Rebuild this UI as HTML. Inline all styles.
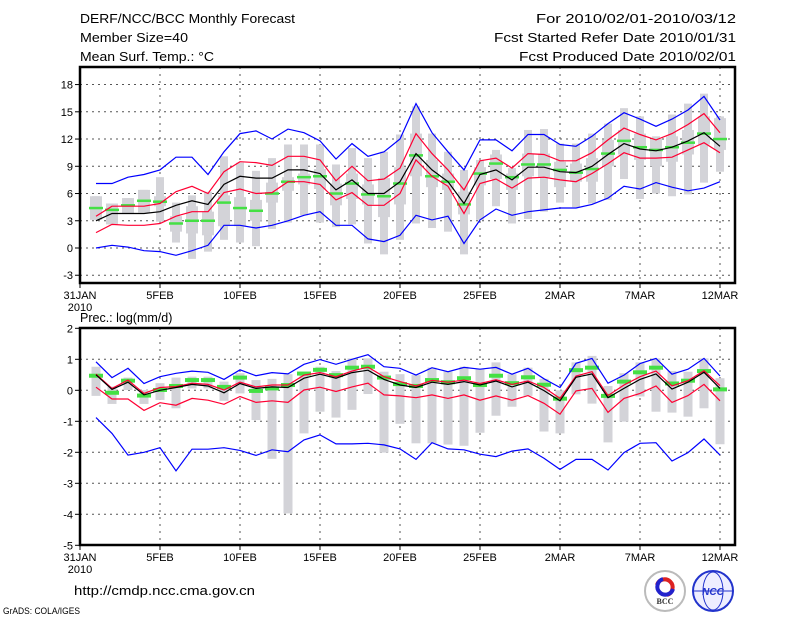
<!DOCTYPE html>
<html><head><meta charset="utf-8"><style>
html,body{margin:0;padding:0;background:#fff;}
svg{display:block;font-family:"Liberation Sans",sans-serif;}
</style></head><body>
<svg id="chart" width="800" height="618" viewBox="0 0 800 618">
<rect x="0" y="0" width="800" height="618" fill="#fff"/>
<g font-size="12.5" fill="#000">
<text x="80" y="23" textLength="215" lengthAdjust="spacingAndGlyphs">DERF/NCC/BCC Monthly Forecast</text>
<text x="80" y="42" textLength="108" lengthAdjust="spacingAndGlyphs">Member Size=40</text>
<text x="80" y="61" textLength="134" lengthAdjust="spacingAndGlyphs">Mean Surf. Temp.: °C</text>
<text x="536" y="23" textLength="200" lengthAdjust="spacingAndGlyphs">For 2010/02/01-2010/03/12</text>
<text x="494" y="42" textLength="242" lengthAdjust="spacingAndGlyphs">Fcst Started Refer Date 2010/01/31</text>
<text x="519" y="61" textLength="217" lengthAdjust="spacingAndGlyphs">Fcst Produced Date 2010/02/01</text>
</g>
<text x="80" y="322" font-size="12.5">Prec.: log(mm/d)</text>
<text x="74" y="595" font-size="13" textLength="181" lengthAdjust="spacingAndGlyphs">http://cmdp.ncc.cma.gov.cn</text>
<text x="3" y="614" font-size="9" textLength="77" lengthAdjust="spacingAndGlyphs">GrADS: COLA/IGES</text>
<g>
<circle cx="665" cy="591" r="20" fill="#fff" stroke="#bbb" stroke-width="2"/>
<path d="M657 585 a8 8 0 1 1 10 10" fill="none" stroke="#d22" stroke-width="4"/>
<path d="M673 589 a8 8 0 1 1 -10 -10" fill="none" stroke="#22c" stroke-width="4"/>
<text x="665" y="604" font-size="8" text-anchor="middle" font-family="Liberation Serif,serif" font-weight="bold" fill="#333">BCC</text>
</g>
<g>
<circle cx="713" cy="591" r="20" fill="#eef" stroke="#23c" stroke-width="2"/>
<ellipse cx="713" cy="591" rx="10" ry="19" fill="none" stroke="#23c"/>
<line x1="694" y1="591" x2="732" y2="591" stroke="#23c"/>
<text x="713" y="595" font-size="10" text-anchor="middle" font-style="italic" font-weight="bold" fill="#23c">NCC</text>
</g>
<g id="top"></g>
<g id="bot"></g>
</svg>
<script>
// ===== Temperature panel data (Feb1..Mar12) =====
const days = [1,2,3,4,5,6,7,8,9,10,11,12,13,14,15,16,17,18,19,20,21,22,23,24,25,26,27,28,29,30,31,32,33,34,35,36,37,38,39,40];
const xTickLabels = ["31JAN","5FEB","10FEB","15FEB","20FEB","25FEB","2MAR","7MAR","12MAR"];
const xTickDays = [0,5,10,15,20,25,30,35,40];
const tTicks = [18,15,12,9,6,3,0,-3];
const tMax = [7.1,7.1,7.8,8.1,8.6,10.0,10.0,8.1,10.6,12.6,12.9,12.0,13.1,12.7,11.8,9.8,11.5,10.1,10.6,12.0,15.9,12.7,10.6,8.6,11.9,11.9,10.7,12.5,12.5,11.4,11.2,12.3,13.7,14.9,14.2,13.4,14.2,15.2,16.7,14.1];
const tUp = [3.5,4.6,4.6,4.6,4.9,6.2,6.8,6.0,8.4,9.5,9.4,9.1,10.1,10.1,9.7,7.4,9.0,7.4,7.6,8.8,12.6,10.4,8.6,6.4,9.6,9.9,8.8,10.4,10.3,9.6,9.6,10.5,11.9,13.2,12.5,11.9,12.6,13.6,14.8,12.7];
const tMean = [3.0,3.8,3.8,3.8,4.0,4.7,5.2,4.8,7.0,7.9,7.7,7.7,8.6,8.6,8.2,6.4,7.5,6.0,6.0,7.3,10.4,8.6,7.3,4.9,8.1,8.6,7.5,8.9,8.9,8.4,8.3,9.0,10.3,11.5,10.9,10.7,11.1,11.8,12.7,11.2];
const tLo = [1.7,2.6,2.5,2.5,2.7,3.5,4.0,4.0,6.1,6.5,6.0,6.1,7.3,7.3,7.0,5.3,6.1,4.7,4.7,6.0,9.7,7.9,6.8,3.8,7.1,7.6,6.6,7.7,7.8,7.5,7.3,8.2,9.3,10.5,9.9,9.9,10.0,10.8,11.6,10.5];
const tMin = [0,0.3,0.1,-0.3,-0.4,-0.8,-0.3,0.3,2.5,2.5,2.2,2.5,3.0,3.6,4.0,2.5,2.5,1.0,0.7,1.4,3.6,3.1,3.5,0.5,3.1,4.3,3.6,4.0,4.2,4.4,4.4,4.8,5.5,6.8,6.5,7.2,6.7,6.3,6.6,7.3];
const tWhiskHi = [5.7,4.9,5.5,6.4,7.8,5.0,5.8,6.2,10.1,9.4,8.5,9.9,11.4,11.4,11.4,9.2,11.0,9.9,10.6,12.5,15.6,12.6,10.6,8.6,9.7,10.8,8.8,13.0,13.1,11.5,11.5,12.6,13.7,15.4,14.5,12.3,14.7,15.9,17.0,14.5];
const tWhiskLo = [3.1,2.6,3.8,3.9,2.9,0.6,-1.2,-0.4,0.9,0.6,0.2,2.1,2.8,3.6,2.8,2.3,2.6,0.5,-0.7,0.9,2.7,2.2,1.8,-0.7,3.1,4.6,2.7,3.2,4.0,5.0,4.5,4.9,5.3,7.6,5.4,6.0,5.7,5.9,7.2,8.4];
const tBoxHi = [5.7,4.9,5.5,6.4,5.7,3.5,4.6,4.0,5.8,5.6,5.3,7.2,7.8,8.2,8.7,7.1,8.2,7.0,7.7,8.9,12.6,9.7,8.2,6.2,8.9,10.3,8.2,10.4,10.4,9.5,9.3,9.9,11.9,13.0,12.6,12.0,12.3,13.0,14.5,14.3];
const tBoxLo = [3.1,2.6,3.8,3.9,4.6,1.8,1.6,1.4,2.4,2.4,3.0,5.0,6.3,7.0,6.5,4.7,5.4,4.8,3.4,4.8,7.9,6.7,6.4,3.7,6.9,7.6,6.4,7.9,7.8,6.7,7.3,7.3,9.0,10.3,9.7,9.0,9.5,10.3,11.4,10.8];
const tMed = [4.4,4.2,4.7,5.2,5.1,2.7,3.0,3.0,5.0,4.4,4.1,6.0,7.3,7.8,7.9,6.0,7.1,5.9,5.7,7.1,10.2,7.9,7.3,4.8,8.2,9.3,7.8,9.2,9.2,8.6,8.3,8.7,10.4,11.8,11.1,10.8,11.1,11.6,12.6,12.0];
// ===== Precipitation panel data =====
const pTicks = [2,1,0,-1,-2,-3,-4,-5];
const pMax = [0.92,0.41,0.71,0.22,0.44,0.55,0.62,0.58,0.35,0.66,0.47,0.57,0.53,0.84,0.99,0.84,1.0,1.15,0.76,0.71,0.49,0.73,0.6,0.74,0.68,0.74,0.52,0.71,0.37,0.09,0.87,1.03,0.23,0.49,0.86,1.03,0.52,0.68,1.03,0.46];
const pUp = [0.52,0.06,0.33,-0.1,0.09,0.12,0.23,0.19,0.01,0.26,0.11,0.17,0.17,0.49,0.57,0.44,0.62,0.75,0.44,0.28,0.14,0.32,0.26,0.33,0.22,0.34,0.19,0.3,0.09,-0.26,0.46,0.6,-0.17,0.17,0.44,0.62,0.14,0.31,0.63,0.15];
const pMean = [0.5,0.03,0.26,-0.15,0.0,0.09,0.19,0.14,-0.08,0.22,0.06,0.11,0.09,0.39,0.52,0.39,0.57,0.65,0.35,0.17,0.09,0.26,0.19,0.28,0.17,0.3,0.11,0.26,-0.01,-0.34,0.42,0.53,-0.24,0.06,0.35,0.53,0.04,0.26,0.58,0.06];
const pLo = [0.1,-0.28,-0.28,-0.65,-0.4,-0.48,-0.26,-0.32,-0.45,-0.2,-0.39,-0.34,-0.39,0.01,0.1,-0.04,0.11,0.23,-0.15,-0.18,-0.24,-0.15,-0.26,-0.15,-0.32,-0.18,-0.32,-0.17,-0.42,-0.77,-0.02,0.06,-0.71,-0.26,-0.1,0.14,-0.39,-0.17,0.19,-0.34];
const pMin = [-0.88,-1.39,-2.09,-2.0,-1.85,-2.6,-1.9,-1.9,-1.85,-1.94,-2.1,-1.92,-1.98,-1.6,-1.44,-1.73,-1.73,-1.71,-1.76,-1.89,-2.23,-1.69,-1.89,-1.92,-2.06,-2.14,-1.96,-1.89,-2.19,-2.55,-2.23,-2.23,-2.57,-2.01,-1.71,-1.69,-2.28,-2.01,-1.57,-2.09];
const pWhiskHi = [0.76,0.12,0.41,0.01,0.23,0.41,0.44,0.44,0.28,0.55,0.33,0.37,0.52,0.6,0.76,0.62,1.03,1.03,0.6,0.52,0.49,0.73,0.6,0.76,0.69,0.9,0.52,0.73,0.37,0.0,0.9,1.11,0.14,0.55,0.9,1.03,0.62,0.6,1.03,0.39];
const pWhiskLo = [-0.18,-0.44,0.01,-0.44,-0.31,-0.58,0.06,0.06,-0.34,-0.1,-0.96,-2.21,-3.97,-1.39,-0.69,-0.88,-0.63,-0.12,-2.01,-1.08,-1.71,-1.71,-1.75,-1.79,-1.37,-0.82,-0.53,-0.18,-1.33,-1.39,-0.13,-0.43,-1.68,-1.01,-0.2,-0.69,-0.72,-0.85,-0.58,-1.74];
const pMed = [0.47,-0.08,0.31,-0.17,0.01,0.14,0.33,0.33,0.11,0.41,-0.02,0.06,0.17,0.54,0.66,0.49,0.73,0.76,0.41,0.2,0.14,0.33,0.26,0.39,0.17,0.47,0.23,0.42,0.18,-0.27,0.65,0.73,-0.18,0.28,0.58,0.73,0.22,0.31,0.62,0.03];

const NS = "http://www.w3.org/2000/svg";
const L = 80, R = 735;
function yTop(v){ return 248 - 9.08 * v; }
function yBot(v){ return 390.3 - 31 * v; }
function xOf16(d){ return L + 16 * d; }
function mk(tag, attrs, parent){ const e = document.createElementNS(NS, tag); for (const k in attrs) e.setAttribute(k, attrs[k]); parent.appendChild(e); return e; }

function panel(g, cfg){
  const {yf, top, bottom, ticks} = cfg;
  ticks.forEach(t => {
    const y = yf(t);
    if (y > top + 2 && y < bottom - 2) {
      const gl = mk('line', {x1:L, x2:R, y1:y, y2:y, stroke:'#555', 'stroke-width':1, 'stroke-dasharray':'2,4'}, g);
      
      
    }
    const tk = mk('line', {x1:L-5, x2:L, y1:y, y2:y, stroke:'#000'}, g);
    
    
    const tl = mk('text', {x:L-7, y:y+4, 'font-size':11, 'text-anchor':'end'}, g);
    tl.textContent = t;
    
    
  });
  xTickDays.forEach((d, i) => {
    const x = L + 16 * d;
    if (i > 0) {
      const gl = mk('line', {x1:x, x2:x, y1:top, y2:bottom, stroke:'#555', 'stroke-width':1, 'stroke-dasharray':'2,5'}, g);
      
      
    }
    const tk = mk('line', {x1:x, x2:x, y1:bottom, y2:bottom+5, stroke:'#000'}, g);
    
    
    const tl = mk('text', {x:x, y:bottom+16, 'font-size':11, 'text-anchor':'middle'}, g);
    tl.textContent = xTickLabels[i];
    
    
  });
  const yr = mk('text', {x:L, y:bottom+28, 'font-size':11, 'text-anchor':'middle'}, g);
  yr.textContent = '2010';
  
  
}
function series(g, vals, yf, color, name, w){
  const pts = days.map((d, i) => xOf16(d) + ',' + yf(vals[i]).toFixed(1)).join(' ');
  const pl = mk('polyline', {points:pts, fill:'none', stroke:color, 'stroke-width':w}, g);
  
  
}
function bars(g, hi, lo, yf, w, name){
  days.forEach((d, i) => {
    const y1 = yf(hi[i]), y2 = yf(lo[i]);
    const r = mk('rect', {x:xOf16(d)-w/2, y:Math.min(y1,y2), width:w, height:Math.abs(y2-y1), fill:'#d3d3d8'}, g);
    
    
  });
}
function meds(g, vals, yf, h){
  days.forEach((d, i) => {
    const r = mk('rect', {x:xOf16(d)-7, y:yf(vals[i])-h/2, width:14, height:h, fill:'#44e044'}, g);
    
    
  });
}
function frame(g, top, bottom){
  const f = mk('rect', {x:L, y:top, width:R-L, height:bottom-top, fill:'none', stroke:'#000', 'stroke-width':2.5}, g);
  
  
}

const gt = document.getElementById('top');


panel(gt, {yf:yTop, top:67, bottom:283, ticks:tTicks});
bars(gt, tWhiskHi, tWhiskLo, yTop, 8, 'whisker-bar');
bars(gt, tBoxHi, tBoxLo, yTop, 12, 'box-bar');
meds(gt, tMed, yTop, 2.5);
series(gt, tMax, yTop, '#0000ff', 'max-line', 1.2);
series(gt, tMin, yTop, '#0000ff', 'min-line', 1.2);
series(gt, tUp, yTop, '#ff0033', 'upper-line', 1.2);
series(gt, tLo, yTop, '#ff0033', 'lower-line', 1.2);
series(gt, tMean, yTop, '#000', 'mean-line', 1.2);
frame(gt, 67, 283);

const gb = document.getElementById('bot');


panel(gb, {yf:yBot, top:328, bottom:545, ticks:pTicks});
bars(gb, pWhiskHi, pWhiskLo, yBot, 9, 'whisker-bar');
meds(gb, pMed, yBot, 4);
series(gb, pMax, yBot, '#0000ff', 'max-line', 1.2);
series(gb, pMin, yBot, '#0000ff', 'min-line', 1.2);
series(gb, pUp, yBot, '#ff0033', 'upper-line', 1.2);
series(gb, pLo, yBot, '#ff0033', 'lower-line', 1.2);
series(gb, pMean, yBot, '#000', 'mean-line', 1.2);
frame(gb, 328, 545);
</script>
</body></html>
